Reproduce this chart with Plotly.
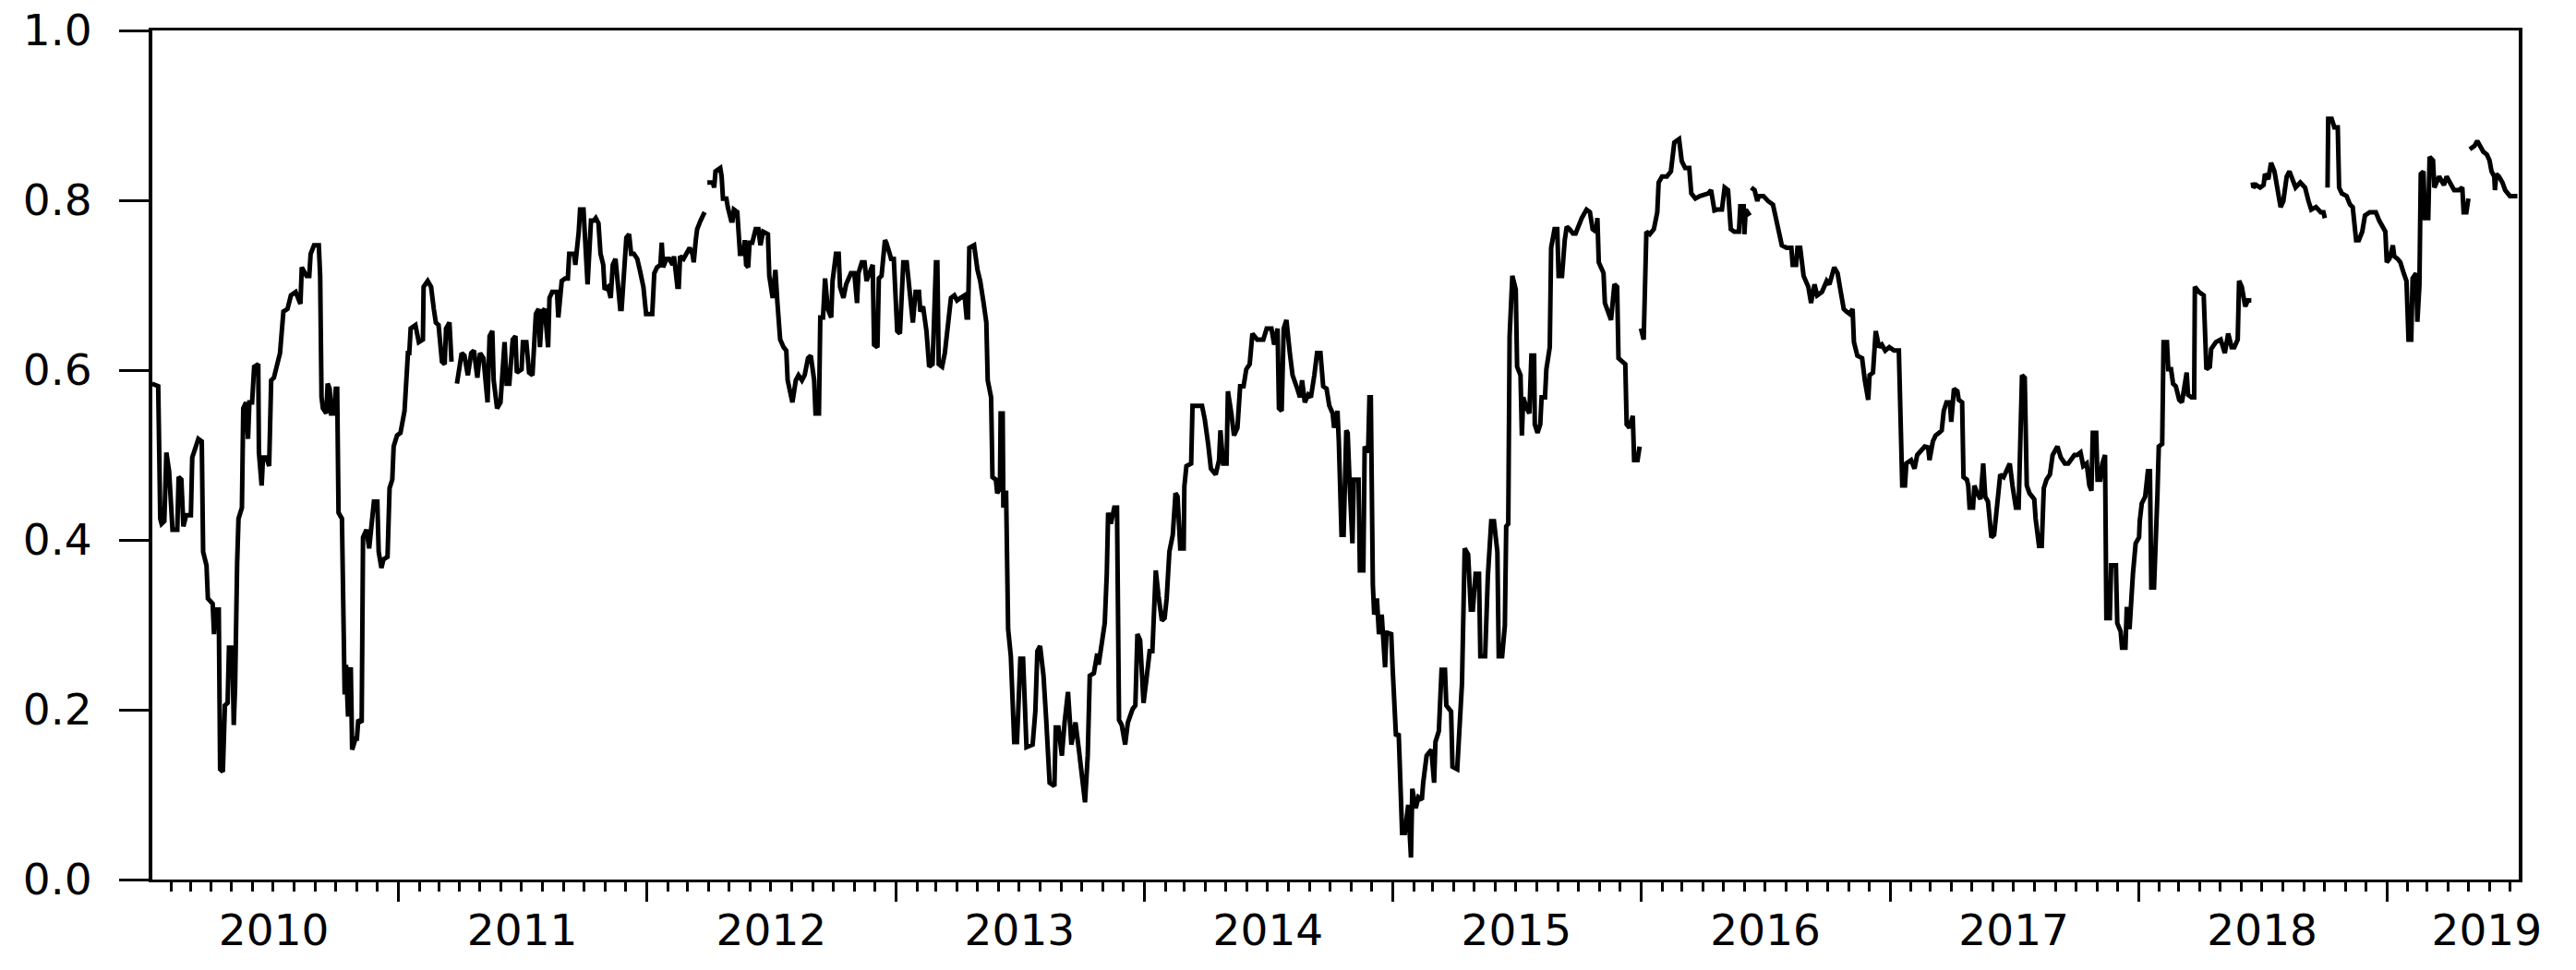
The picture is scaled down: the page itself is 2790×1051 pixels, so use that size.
import plotly.graph_objects as go
import pandas as pd

# day numbers count from this date
START = pd.Timestamp("2010-01-01")

# ---- 2010 - early 2011 -------------------------------------------------------------
seg1_days = [3, 12, 15, 17, 21, 24, 28, 33, 40, 42,
             46, 49, 53, 60, 62, 67, 71, 76, 78, 83,
             85, 92, 94, 96, 101, 103, 107, 110, 114, 116,
             121, 123, 125, 128, 130, 135, 137, 141, 144, 146,
             150, 153, 159, 160, 164, 166, 171, 175, 178, 182,
             189, 191, 196, 202, 207, 214, 221, 223, 230, 234,
             236, 241, 248, 250, 252, 254, 259, 261, 264, 266,
             270, 273, 275, 277, 282, 284, 286, 288, 291, 295,
             297, 302, 304, 306, 311, 313, 318, 322, 325, 329,
             334, 336, 340, 343, 349, 352, 356, 358, 363, 368,
             374, 379, 381, 383, 390, 395, 401, 402, 408, 413,
             417, 420, 424, 429, 433, 435, 440, 443]
seg1_vals = [0.584, 0.581, 0.425, 0.419, 0.422, 0.503, 0.481, 0.412, 0.412, 0.474,
             0.471, 0.416, 0.429, 0.429, 0.497, 0.510, 0.519, 0.516, 0.386, 0.370,
             0.331, 0.325, 0.289, 0.318, 0.318, 0.130, 0.127, 0.205, 0.208, 0.273,
             0.273, 0.182, 0.227, 0.373, 0.425, 0.438, 0.555, 0.562, 0.519, 0.562,
             0.562, 0.604, 0.607, 0.503, 0.464, 0.497, 0.497, 0.487, 0.588, 0.591,
             0.614, 0.620, 0.669, 0.672, 0.688, 0.692, 0.678, 0.721, 0.711, 0.711,
             0.737, 0.747, 0.747, 0.711, 0.568, 0.555, 0.549, 0.584, 0.578, 0.549,
             0.549, 0.578, 0.578, 0.432, 0.425, 0.250, 0.218, 0.253, 0.192, 0.250,
             0.153, 0.166, 0.166, 0.188, 0.185, 0.403, 0.412, 0.390, 0.416, 0.445,
             0.445, 0.386, 0.367, 0.377, 0.380, 0.461, 0.471, 0.510, 0.523, 0.526,
             0.552, 0.620, 0.620, 0.649, 0.653, 0.633, 0.636, 0.698, 0.705, 0.698,
             0.672, 0.656, 0.653, 0.610, 0.607, 0.649, 0.656, 0.610]

# ---- 2011 - march 2012 ---------------------------------------------------------------
seg2_days = [451, 458, 462, 467, 472, 476, 481, 485, 490, 494,
             496, 499, 503, 505, 510, 515, 519, 521, 524, 528,
             533, 537, 539, 546, 548, 553, 557, 562, 567, 571,
             573, 576, 580, 585, 587, 591, 598, 600, 605, 610,
             614, 616, 623, 625, 630, 632, 637, 639, 643, 648,
             652, 655, 659, 662, 666, 668, 673, 677, 680, 684,
             686, 691, 693, 698, 700, 704, 707, 711, 716, 720,
             725, 729, 734, 738, 741, 745, 750, 752, 754, 759,
             763, 768, 770, 775, 777, 779, 784, 788, 793, 797,
             799, 802, 804, 809, 815]
seg2_vals = [0.584, 0.620, 0.617, 0.594, 0.620, 0.623, 0.591, 0.620, 0.614, 0.575,
             0.562, 0.640, 0.646, 0.588, 0.555, 0.562, 0.627, 0.633, 0.584, 0.584,
             0.636, 0.640, 0.597, 0.601, 0.633, 0.633, 0.597, 0.594, 0.666, 0.672,
             0.627, 0.669, 0.672, 0.627, 0.685, 0.692, 0.692, 0.662, 0.705, 0.708,
             0.708, 0.737, 0.737, 0.724, 0.763, 0.789, 0.789, 0.750, 0.701, 0.776,
             0.776, 0.779, 0.773, 0.737, 0.724, 0.695, 0.698, 0.685, 0.724, 0.731,
             0.714, 0.672, 0.672, 0.727, 0.756, 0.760, 0.737, 0.737, 0.731, 0.717,
             0.698, 0.666, 0.666, 0.666, 0.714, 0.721, 0.724, 0.750, 0.721, 0.731,
             0.731, 0.724, 0.734, 0.698, 0.698, 0.734, 0.731, 0.737, 0.744, 0.737,
             0.727, 0.753, 0.766, 0.776, 0.786]

# ---- april 2012 - end of 2015, split by year ---------------------------------------------
days_2012 = [819, 827, 829, 831, 838, 840, 842, 847, 849, 854,
             856, 858, 863, 865, 867, 872, 874, 876, 879, 881,
             885, 890, 894, 897, 901, 908, 910, 915, 919, 922,
             926, 931, 935, 937, 942, 944, 949, 953, 958, 962,
             967, 971, 976, 978, 983, 985, 989, 992, 996, 1001,
             1003, 1008, 1012, 1014, 1019, 1023, 1030, 1035, 1039, 1041,
             1046, 1050, 1053, 1057, 1062, 1064, 1069, 1071, 1075, 1080,
             1082, 1087, 1089, 1093]
vals_2012 = [0.821, 0.821, 0.815, 0.834, 0.838, 0.828, 0.802, 0.802, 0.792, 0.776,
             0.776, 0.789, 0.786, 0.753, 0.737, 0.737, 0.753, 0.724, 0.721, 0.750,
             0.750, 0.766, 0.766, 0.747, 0.763, 0.760, 0.711, 0.685, 0.718, 0.679,
             0.636, 0.627, 0.623, 0.588, 0.568, 0.562, 0.588, 0.594, 0.588, 0.594,
             0.614, 0.617, 0.588, 0.549, 0.549, 0.662, 0.662, 0.708, 0.672, 0.662,
             0.705, 0.737, 0.737, 0.698, 0.685, 0.701, 0.714, 0.714, 0.679, 0.714,
             0.727, 0.727, 0.705, 0.714, 0.724, 0.630, 0.627, 0.708, 0.711, 0.753,
             0.750, 0.737, 0.731, 0.731]

days_2013 = [1098, 1102, 1107, 1112, 1116, 1121, 1125, 1130, 1132, 1136,
             1141, 1145, 1150, 1155, 1157, 1159, 1164, 1168, 1173, 1177,
             1182, 1186, 1191, 1197, 1200, 1202, 1204, 1211, 1216, 1220,
             1225, 1229, 1231, 1236, 1238, 1243, 1245, 1249, 1250, 1253,
             1254, 1258, 1261, 1265, 1270, 1274, 1279, 1283, 1288, 1297,
             1301, 1304, 1308, 1313, 1317, 1322, 1329, 1331, 1335, 1340,
             1344, 1349, 1354, 1360, 1365, 1372, 1374, 1378, 1381, 1387,
             1392, 1394, 1399, 1403, 1406, 1408, 1412, 1417, 1421, 1424,
             1428, 1433, 1437, 1444, 1448, 1451, 1455]
vals_2013 = [0.646, 0.643, 0.727, 0.727, 0.698, 0.656, 0.692, 0.692, 0.669, 0.675,
             0.646, 0.604, 0.607, 0.727, 0.727, 0.607, 0.604, 0.620, 0.656, 0.685,
             0.688, 0.682, 0.685, 0.688, 0.662, 0.662, 0.744, 0.747, 0.718, 0.705,
             0.679, 0.656, 0.588, 0.568, 0.474, 0.471, 0.455, 0.461, 0.549, 0.549,
             0.438, 0.458, 0.295, 0.263, 0.162, 0.162, 0.260, 0.260, 0.156, 0.159,
             0.198, 0.269, 0.275, 0.240, 0.188, 0.114, 0.110, 0.179, 0.179, 0.146,
             0.185, 0.221, 0.159, 0.185, 0.153, 0.094, 0.091, 0.146, 0.240, 0.243,
             0.266, 0.253, 0.282, 0.302, 0.360, 0.432, 0.419, 0.438, 0.438, 0.188,
             0.182, 0.159, 0.185, 0.201, 0.205, 0.289, 0.282]

days_2014 = [1460, 1464, 1469, 1473, 1478, 1482, 1487, 1491, 1494, 1498,
             1503, 1507, 1510, 1514, 1519, 1520, 1523, 1530, 1532, 1546,
             1550, 1555, 1559, 1566, 1571, 1573, 1577, 1582, 1584, 1589,
             1593, 1598, 1602, 1607, 1611, 1616, 1620, 1627, 1636, 1641,
             1648, 1652, 1657, 1659, 1663, 1666, 1670, 1675, 1679, 1686,
             1690, 1693, 1697, 1702, 1706, 1711, 1715, 1720, 1724, 1729,
             1733, 1738, 1740, 1745, 1747, 1751, 1754, 1758, 1760, 1763,
             1767, 1769, 1776, 1778, 1783, 1785, 1790, 1792, 1794, 1797,
             1799, 1803, 1806, 1810, 1815, 1817]
vals_2014 = [0.208, 0.234, 0.269, 0.269, 0.364, 0.334, 0.305, 0.308, 0.331, 0.386,
             0.406, 0.455, 0.451, 0.390, 0.390, 0.463, 0.487, 0.490, 0.558, 0.558,
             0.542, 0.513, 0.484, 0.477, 0.494, 0.529, 0.490, 0.490, 0.575, 0.549,
             0.523, 0.532, 0.581, 0.581, 0.601, 0.607, 0.643, 0.636, 0.636, 0.649,
             0.649, 0.630, 0.649, 0.555, 0.552, 0.649, 0.659, 0.620, 0.594, 0.578,
             0.568, 0.588, 0.562, 0.571, 0.568, 0.594, 0.620, 0.620, 0.581, 0.578,
             0.558, 0.549, 0.532, 0.552, 0.516, 0.406, 0.406, 0.529, 0.526, 0.464,
             0.396, 0.471, 0.471, 0.364, 0.364, 0.510, 0.503, 0.568, 0.568, 0.347,
             0.312, 0.331, 0.289, 0.312, 0.250, 0.291]

days_2015 = [1824, 1826, 1831, 1835, 1840, 1844, 1849, 1853, 1855, 1860,
             1864, 1869, 1871, 1876, 1883, 1887, 1889, 1894, 1898, 1903,
             1905, 1912, 1914, 1921, 1926, 1928, 1932, 1937, 1941, 1944,
             1948, 1953, 1955, 1962, 1966, 1971, 1975, 1978, 1980, 1982,
             1987, 1991, 1993, 1996, 1998, 2002, 2007, 2009, 2014, 2016,
             2018, 2023, 2027, 2030, 2034, 2035, 2039, 2043, 2045, 2050,
             2052, 2057, 2059, 2064, 2068, 2070, 2075, 2079, 2082, 2086,
             2091, 2095, 2100, 2104, 2111, 2116, 2120, 2125, 2127, 2129,
             2134, 2136, 2138, 2143, 2147, 2152, 2156, 2158, 2163, 2168,
             2170, 2174, 2179, 2181, 2186, 2189]
vals_2015 = [0.289, 0.250, 0.169, 0.172, 0.055, 0.055, 0.088, 0.026, 0.107, 0.084,
             0.097, 0.094, 0.114, 0.146, 0.153, 0.114, 0.162, 0.175, 0.247, 0.247,
             0.205, 0.198, 0.133, 0.130, 0.221, 0.231, 0.390, 0.383, 0.318, 0.318,
             0.360, 0.360, 0.263, 0.263, 0.357, 0.422, 0.422, 0.390, 0.386, 0.263,
             0.263, 0.299, 0.416, 0.419, 0.640, 0.711, 0.695, 0.604, 0.594, 0.523,
             0.568, 0.555, 0.549, 0.617, 0.617, 0.536, 0.526, 0.536, 0.568, 0.568,
             0.601, 0.627, 0.744, 0.766, 0.766, 0.711, 0.711, 0.753, 0.769, 0.766,
             0.761, 0.761, 0.773, 0.779, 0.789, 0.786, 0.766, 0.763, 0.779, 0.727,
             0.718, 0.714, 0.679, 0.669, 0.659, 0.701, 0.698, 0.614, 0.610, 0.607,
             0.536, 0.532, 0.546, 0.494, 0.494, 0.510]

# ---- 2016 -------------------------------------------------------------------------
seg4_days = [2191, 2195, 2199, 2204, 2210, 2215, 2217, 2222, 2229, 2235,
             2240, 2247, 2251, 2256, 2262, 2265, 2271, 2278, 2290, 2294,
             2299, 2303, 2310, 2314, 2319, 2323, 2328, 2335, 2337, 2342,
             2343, 2345, 2351]
seg4_vals = [0.649, 0.636, 0.763, 0.760, 0.766, 0.786, 0.821, 0.828, 0.828, 0.834,
             0.868, 0.872, 0.846, 0.838, 0.838, 0.808, 0.802, 0.805, 0.808, 0.812,
             0.788, 0.789, 0.789, 0.815, 0.812, 0.766, 0.763, 0.763, 0.793, 0.793,
             0.760, 0.789, 0.782]

# ---- mid 2016 - june 2018 ------------------------------------------------------------
days_2016b = [2353, 2358, 2362, 2364, 2371, 2378, 2385, 2391, 2398, 2405,
              2412, 2414, 2419, 2421, 2425, 2430, 2437, 2441, 2446, 2450,
              2457, 2464, 2468, 2475, 2480, 2484, 2489, 2493, 2498, 2502,
              2504, 2509, 2516, 2520, 2525, 2527, 2532, 2536, 2541, 2545,
              2550, 2556]
vals_2016b = [0.815, 0.812, 0.799, 0.805, 0.805, 0.799, 0.795, 0.773, 0.747, 0.744,
              0.744, 0.724, 0.724, 0.744, 0.744, 0.711, 0.698, 0.679, 0.701, 0.688,
              0.692, 0.705, 0.701, 0.721, 0.714, 0.695, 0.672, 0.669, 0.666, 0.672,
              0.633, 0.617, 0.614, 0.588, 0.565, 0.594, 0.597, 0.646, 0.627, 0.630,
              0.623, 0.627]

days_2017 = [2563, 2570, 2572, 2575, 2579, 2581, 2588, 2593, 2597, 2604,
             2608, 2613, 2615, 2620, 2624, 2629, 2633, 2636, 2640, 2645,
             2647, 2651, 2656, 2658, 2663, 2665, 2670, 2672, 2674, 2679,
             2681, 2685, 2690, 2694, 2697, 2701, 2706, 2710, 2715, 2719,
             2724, 2728, 2733, 2737, 2742, 2746, 2751, 2755, 2758, 2762,
             2769, 2771, 2776, 2780, 2783, 2787, 2792, 2796, 2803, 2808,
             2814, 2819, 2823, 2828, 2832, 2837, 2841, 2846, 2850, 2853,
             2855, 2860, 2862, 2866, 2869, 2873, 2875, 2880, 2882, 2889,
             2891, 2896, 2898, 2903, 2905, 2909, 2914, 2918]
vals_2017 = [0.623, 0.623, 0.542, 0.464, 0.464, 0.490, 0.494, 0.484, 0.500, 0.506,
             0.510, 0.509, 0.494, 0.516, 0.523, 0.526, 0.529, 0.552, 0.562, 0.562,
             0.539, 0.578, 0.575, 0.565, 0.562, 0.474, 0.471, 0.464, 0.438, 0.438,
             0.464, 0.455, 0.448, 0.490, 0.451, 0.445, 0.403, 0.406, 0.445, 0.477,
             0.474, 0.481, 0.490, 0.464, 0.438, 0.438, 0.594, 0.591, 0.464, 0.455,
             0.448, 0.425, 0.393, 0.393, 0.461, 0.471, 0.477, 0.500, 0.510, 0.497,
             0.490, 0.490, 0.494, 0.500, 0.500, 0.503, 0.487, 0.490, 0.464, 0.458,
             0.526, 0.526, 0.471, 0.471, 0.490, 0.500, 0.308, 0.308, 0.370, 0.370,
             0.302, 0.292, 0.273, 0.273, 0.321, 0.295, 0.360, 0.396]

days_2018a = [2923, 2924, 2927, 2932, 2936, 2939, 2941, 2945, 2950, 2952,
              2957, 2959, 2964, 2966, 2970, 2973, 2977, 2982, 2986, 2991,
              2993, 2995, 3000, 3004, 3005, 3011, 3018, 3022, 3027, 3029,
              3036, 3043, 3049, 3054, 3059, 3063, 3068, 3070, 3074, 3079,
              3083, 3088]
vals_2018a = [0.403, 0.422, 0.443, 0.451, 0.481, 0.481, 0.344, 0.344, 0.453, 0.510,
              0.513, 0.633, 0.633, 0.601, 0.601, 0.584, 0.581, 0.565, 0.562, 0.594,
              0.597, 0.571, 0.568, 0.568, 0.698, 0.692, 0.688, 0.601, 0.604, 0.625,
              0.633, 0.636, 0.620, 0.643, 0.627, 0.627, 0.636, 0.705, 0.698, 0.675,
              0.682, 0.682]

# ---- mid 2018 - 2019, short pieces -----------------------------------------------------
seg6_days = [3090, 3091, 3095, 3101, 3106, 3108, 3113, 3117, 3122, 3126,
             3131, 3135, 3140, 3144, 3149, 3153, 3160, 3167, 3172, 3176,
             3183, 3190, 3194, 3196]
seg6_vals = [0.821, 0.815, 0.818, 0.815, 0.818, 0.831, 0.825, 0.844, 0.834, 0.815,
             0.792, 0.799, 0.828, 0.834, 0.821, 0.815, 0.821, 0.815, 0.799, 0.789,
             0.792, 0.786, 0.786, 0.779]

seg7_days = [3200, 3201, 3206, 3210, 3215, 3217, 3221, 3228, 3233, 3237,
             3242, 3246, 3251, 3255, 3262, 3271, 3276, 3280, 3285, 3287,
             3291, 3296, 3298, 3303, 3307, 3312, 3316, 3319, 3323, 3325,
             3330, 3332, 3335, 3337, 3341, 3343, 3348, 3350, 3355, 3357,
             3364, 3371, 3375, 3377, 3382, 3386, 3393, 3398, 3400, 3404,
             3407]
seg7_vals = [0.815, 0.896, 0.896, 0.886, 0.886, 0.815, 0.808, 0.805, 0.795, 0.792,
             0.753, 0.753, 0.763, 0.782, 0.786, 0.786, 0.776, 0.769, 0.763, 0.727,
             0.731, 0.747, 0.734, 0.731, 0.727, 0.714, 0.705, 0.636, 0.636, 0.708,
             0.714, 0.657, 0.700, 0.831, 0.834, 0.779, 0.779, 0.851, 0.847, 0.815,
             0.828, 0.818, 0.828, 0.825, 0.818, 0.812, 0.812, 0.815, 0.786, 0.786,
             0.802]

seg8_days = [3409, 3416, 3420, 3425, 3429, 3434, 3438, 3441, 3445, 3446,
             3448, 3452, 3457, 3461, 3468, 3475, 3479]
seg8_vals = [0.860, 0.864, 0.870, 0.864, 0.857, 0.854, 0.847, 0.834, 0.828, 0.812,
             0.831, 0.828, 0.821, 0.812, 0.805, 0.805, 0.805]

# year labels sit in the middle of each year (2019 only partly shown)
year_labels = ["2010", "2011", "2012", "2013", "2014", "2015", "2016", "2017", "2018", "2019"]
year_label_dates = ["2010-07-02", "2011-07-02", "2012-07-02", "2013-07-02", "2014-07-02",
                    "2015-07-02", "2016-07-02", "2017-07-02", "2018-07-02", "2019-05-28"]
y_ticks = [0.0, 0.2, 0.4, 0.6, 0.8, 1.0]
# ----------------------------------------------------------------------------------------

# unbroken stretches of the series; the line breaks between them
segments = [
    (seg1_days, seg1_vals),
    (seg2_days, seg2_vals),
    (days_2012 + days_2013 + days_2014 + days_2015,
     vals_2012 + vals_2013 + vals_2014 + vals_2015),
    (seg4_days, seg4_vals),
    (days_2016b + days_2017 + days_2018a, vals_2016b + vals_2017 + vals_2018a),
    (seg6_days, seg6_vals),
    (seg7_days, seg7_vals),
    (seg8_days, seg8_vals),
]

x, y = [], []
for days, vals in segments:
    assert len(days) == len(vals)
    dates = START + pd.to_timedelta(days, unit="D")
    x += [d.strftime("%Y-%m-%d") for d in dates]
    y += vals
    x.append(None)
    y.append(None)

x_range = ["2010-01-04 09:00", "2019-07-14"]

fig = go.Figure()
fig.add_trace(go.Scatter(x=x, y=y, mode="lines", connectgaps=False,
                         line=dict(color="black", width=5), showlegend=False))
# empty trace so the label axis is drawn
fig.add_trace(go.Scatter(x=[], y=[], xaxis="x2", yaxis="y", showlegend=False, hoverinfo="skip"))

fig.update_layout(
    width=2790, height=1051,
    margin=dict(l=165, r=62, t=33, b=98),
    paper_bgcolor="white", plot_bgcolor="white",
    font=dict(family="DejaVu Sans", size=47, color="black"),
    xaxis=dict(range=x_range, showline=True, linecolor="black", linewidth=3, mirror=True,
               ticks="outside", ticklen=21, tickwidth=3, tickcolor="black",
               tick0="2010-01-01", dtick="M12", showticklabels=False,
               showgrid=False, zeroline=False, automargin=False,
               minor=dict(ticks="outside", ticklen=10, tickwidth=3, tickcolor="black",
                          tick0="2010-01-01", dtick="M1", showgrid=False)),
    xaxis2=dict(range=x_range, overlaying="x", anchor="y", side="bottom", type="date",
                tickmode="array", tickvals=year_label_dates, ticktext=year_labels,
                ticks="", ticklen=0, showline=False, showgrid=False, zeroline=False,
                automargin=False, ticklabelstandoff=23, ticklabeloverflow="allow"),
    yaxis=dict(range=[0, 1], tickmode="array", tickvals=y_ticks, tickformat=".1f",
               showline=True, linecolor="black", linewidth=4, mirror=True,
               ticks="outside", ticklen=32, tickwidth=3, tickcolor="black",
               showgrid=False, zeroline=False, automargin=False, ticklabelstandoff=20,
               ticklabeloverflow="allow"),
)

# drop the browser's default page margin so the figure sits at the window corner
fig.write_html("out.html", config={"displayModeBar": False},
               post_script="document.body.style.margin = '0px';")
